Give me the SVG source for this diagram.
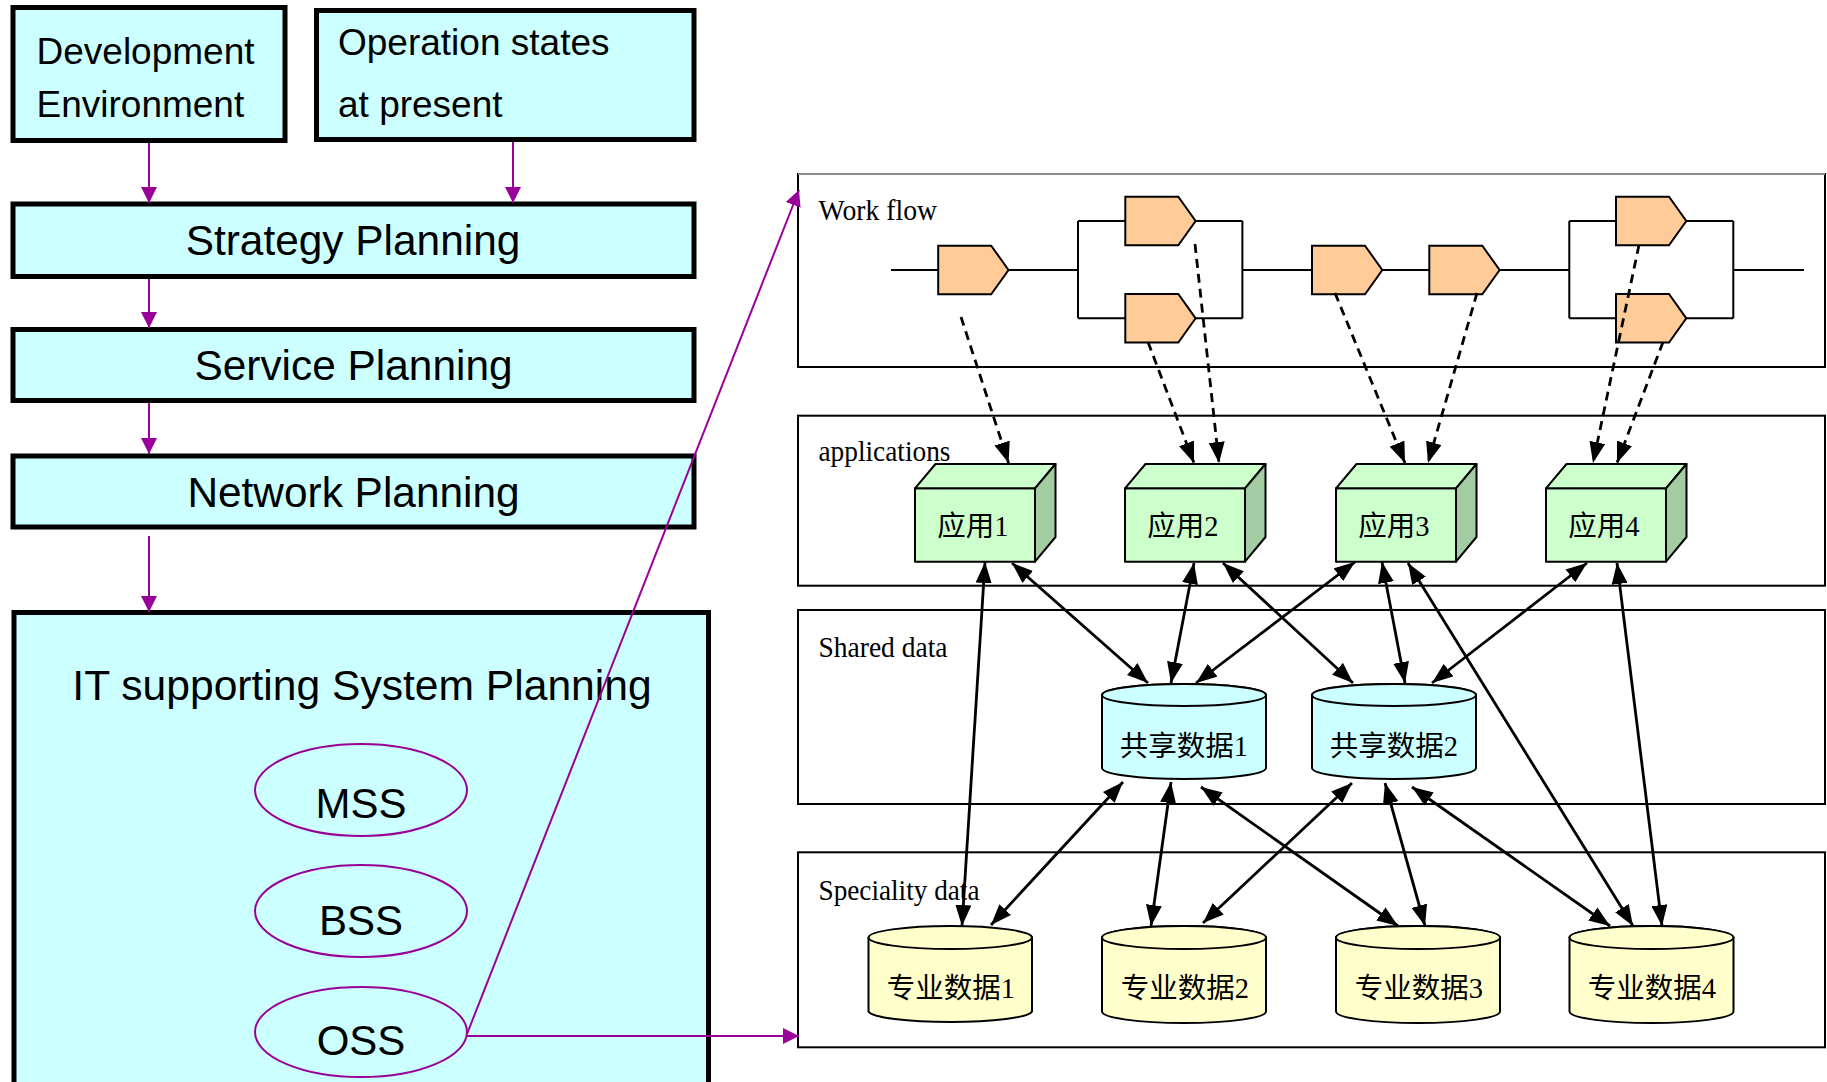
<svg xmlns="http://www.w3.org/2000/svg" width="1827" height="1082" viewBox="0 0 1827 1082">
<style>
.lbox{fill:#CCFFFF;stroke:#000;stroke-width:5}
.lt{font-family:"Liberation Sans",Arial,sans-serif;fill:#000}
.ell{fill:#CCFFFF;stroke:#990099;stroke-width:2}
.sec{fill:#fff;stroke:#000;stroke-width:2}
.st{font-family:"Liberation Serif","Times New Roman",serif;font-size:30px;fill:#000}
.pent{fill:#FFCC99;stroke:#000;stroke-width:2}
.wf{stroke:#000;stroke-width:2;fill:none}
.front{fill:#CCFFCC;stroke:#000;stroke-width:2;stroke-linejoin:round}
.side{fill:#A3CCA3;stroke:#000;stroke-width:2;stroke-linejoin:round}
.cs{fill:#CCFFFF;stroke:#000;stroke-width:2}
.cp{fill:#FFFFCC;stroke:#000;stroke-width:2}
.ct{font-family:"Liberation Serif","Noto Sans CJK SC",serif;font-size:28.5px;fill:#000;text-anchor:middle}
.pur{stroke:#990099;stroke-width:2;fill:none;marker-end:url(#pa)}
.dash{stroke:#000;stroke-width:2.8;stroke-dasharray:9 6;fill:none;marker-end:url(#ba)}
.sol{stroke:#000;stroke-width:2.8;fill:none;marker-start:url(#ba);marker-end:url(#ba)}
</style>
<defs>
<marker id="pa" markerUnits="userSpaceOnUse" markerWidth="16" markerHeight="16" refX="16" refY="8" orient="auto"><path d="M0,0 L16,8 L0,16 z" fill="#990099"/></marker>
<marker id="ba" markerUnits="userSpaceOnUse" markerWidth="21" markerHeight="16" refX="21" refY="8" orient="auto-start-reverse"><path d="M0,0 L21,8 L0,16 z" fill="#000"/></marker>
</defs>
<rect width="1827" height="1082" fill="#fff"/>

<!-- left column -->
<g id="dev-env"><rect class="lbox" x="13" y="7.5" width="272" height="133"/>
<text class="lt" x="36.5" y="64" font-size="37">Development</text>
<text class="lt" x="36.5" y="117" font-size="37">Environment</text></g>
<g id="op-states"><rect class="lbox" x="316.5" y="10.5" width="377.5" height="129"/>
<text class="lt" x="338" y="55" font-size="37">Operation states</text>
<text class="lt" x="338" y="117" font-size="37">at present</text></g>
<g id="strategy"><rect class="lbox" x="13" y="204" width="681" height="72.5"/>
<text class="lt" x="353" y="255" font-size="42.4" text-anchor="middle">Strategy Planning</text></g>
<g id="service"><rect class="lbox" x="13" y="329.5" width="681" height="71"/>
<text class="lt" x="353.5" y="380" font-size="42.4" text-anchor="middle">Service Planning</text></g>
<g id="network"><rect class="lbox" x="13" y="456" width="681" height="71"/>
<text class="lt" x="353.5" y="506.5" font-size="42.4" text-anchor="middle">Network Planning</text></g>
<g id="it-support"><rect class="lbox" x="14" y="612.5" width="694.5" height="480"/>
<text class="lt" x="362" y="700" font-size="42.6" text-anchor="middle">IT supporting System Planning</text></g>
<g id="mss"><ellipse class="ell" cx="361" cy="790" rx="106" ry="46"/><text class="lt" x="361" y="818" font-size="42" text-anchor="middle">MSS</text></g>
<g id="bss"><ellipse class="ell" cx="361" cy="911" rx="106" ry="46"/><text class="lt" x="361" y="935" font-size="42" text-anchor="middle">BSS</text></g>
<g id="oss"><ellipse class="ell" cx="361" cy="1032" rx="106" ry="45"/><text class="lt" x="361" y="1055" font-size="42" text-anchor="middle">OSS</text></g>

<!-- right sections -->
<g id="workflow-sec"><rect class="sec" x="798" y="174" width="1027" height="193" stroke="none"/>
<path d="M798,174 V367 H1825 V174" class="wf"/><path d="M798,174 H1825" stroke="#bbb" stroke-width="1.5"/>
<text class="st" x="818.5" y="220" textLength="118.5" lengthAdjust="spacingAndGlyphs">Work flow</text></g>
<g id="apps-sec"><rect class="sec" x="798" y="415.7" width="1027" height="170"/>
<text class="st" x="818.5" y="461" textLength="132" lengthAdjust="spacingAndGlyphs">applications</text></g>
<g id="shared-sec"><rect class="sec" x="798" y="610" width="1027" height="194"/>
<text class="st" x="818.5" y="656.5" textLength="129" lengthAdjust="spacingAndGlyphs">Shared data</text></g>
<g id="spec-sec"><rect class="sec" x="798" y="852.3" width="1027" height="195"/>
<text class="st" x="818.5" y="900" textLength="161" lengthAdjust="spacingAndGlyphs">Speciality data</text></g>

<!-- workflow lines -->
<g id="workflow-lines" class="wf">
<path d="M891,270 H938 M1008.6,270 H1078 M1078,221 V318.3 M1078,221 H1125 M1078,318.3 H1125 M1195,221 H1242.4 M1195,318.3 H1242.4 M1242.4,221 V318.3 M1242.4,270 H1312"/>
<path d="M1382,270 H1429 M1499,270 H1569.3 M1569.3,221 V318.3 M1569.3,221 H1616 M1569.3,318.3 H1616 M1686,221 H1733.3 M1686,318.3 H1733.3 M1733.3,221 V318.3 M1733.3,270 H1804"/>
</g>
<g id="task1"><path class="pent" d="M938.2,245.7 h53 l17.3,24.3 l-17.3,24.3 h-53 z"/></g>
<g id="task2a"><path class="pent" d="M1125.3,196.7 h53 l17.3,24.3 l-17.3,24.3 h-53 z"/></g>
<g id="task2b"><path class="pent" d="M1125.3,294 h53 l17.3,24.3 l-17.3,24.3 h-53 z"/></g>
<g id="task3"><path class="pent" d="M1312,245.7 h53 l17.3,24.3 l-17.3,24.3 h-53 z"/></g>
<g id="task4"><path class="pent" d="M1429.3,245.7 h53 l17.3,24.3 l-17.3,24.3 h-53 z"/></g>
<g id="task5a"><path class="pent" d="M1616,196.7 h53 l17.3,24.3 l-17.3,24.3 h-53 z"/></g>
<g id="task5b"><path class="pent" d="M1616,294 h53 l17.3,24.3 l-17.3,24.3 h-53 z"/></g>

<!-- applications -->
<g id="app1"><rect class="front" x="915" y="488.3" width="120" height="73.4"/><path class="front" d="M915,488.3 L935.5,464 H1055.5 L1035,488.3 z"/><path class="side" d="M1035,488.3 L1055.5,464 V537 L1035,561.7 z"/><text class="ct" x="973" y="536" font-size="31">应用1</text></g>
<g id="app2"><rect class="front" x="1125" y="488.3" width="120" height="73.4"/><path class="front" d="M1125,488.3 L1145.5,464 H1265.5 L1245,488.3 z"/><path class="side" d="M1245,488.3 L1265.5,464 V537 L1245,561.7 z"/><text class="ct" x="1183" y="536" font-size="31">应用2</text></g>
<g id="app3"><rect class="front" x="1336" y="488.3" width="120" height="73.4"/><path class="front" d="M1336,488.3 L1356.5,464 H1476.5 L1456,488.3 z"/><path class="side" d="M1456,488.3 L1476.5,464 V537 L1456,561.7 z"/><text class="ct" x="1394" y="536" font-size="31">应用3</text></g>
<g id="app4"><rect class="front" x="1546" y="488.3" width="120" height="73.4"/><path class="front" d="M1546,488.3 L1566.5,464 H1686.5 L1666,488.3 z"/><path class="side" d="M1666,488.3 L1686.5,464 V537 L1666,561.7 z"/><text class="ct" x="1604" y="536" font-size="31">应用4</text></g>

<!-- shared data -->
<g id="shared1"><path class="cs" d="M1102,695 V768 A82,11 0 0 0 1266,768 V695 A82,11 0 0 0 1102,695 z"/><ellipse class="cs" cx="1184" cy="695" rx="82" ry="11"/><text class="ct" x="1184" y="756">共享数据1</text></g>
<g id="shared2"><path class="cs" d="M1312,695 V768 A82,11 0 0 0 1476,768 V695 A82,11 0 0 0 1312,695 z"/><ellipse class="cs" cx="1394" cy="695" rx="82" ry="11"/><text class="ct" x="1394" y="756">共享数据2</text></g>

<!-- speciality data -->
<g id="spec1"><path class="cp" d="M868.5,937.5 V1011.5 A82,11.5 0 0 0 1032,1011.5 V937.5 A82,11.5 0 0 0 868.5,937.5 z"/><ellipse class="cp" cx="950.3" cy="937.5" rx="81.7" ry="11.5"/><text class="ct" x="951" y="998">专业数据1</text></g>
<g id="spec2"><path class="cp" d="M1102,937.5 V1011.5 A82,11.5 0 0 0 1266,1011.5 V937.5 A82,11.5 0 0 0 1102,937.5 z"/><ellipse class="cp" cx="1184" cy="937.5" rx="82" ry="11.5"/><text class="ct" x="1185" y="998">专业数据2</text></g>
<g id="spec3"><path class="cp" d="M1336,937.5 V1011.5 A82,11.5 0 0 0 1500,1011.5 V937.5 A82,11.5 0 0 0 1336,937.5 z"/><ellipse class="cp" cx="1418" cy="937.5" rx="82" ry="11.5"/><text class="ct" x="1419" y="998">专业数据3</text></g>
<g id="spec4"><path class="cp" d="M1569.5,937.5 V1011.5 A82,11.5 0 0 0 1733.5,1011.5 V937.5 A82,11.5 0 0 0 1569.5,937.5 z"/><ellipse class="cp" cx="1651.5" cy="937.5" rx="82" ry="11.5"/><text class="ct" x="1652" y="998">专业数据4</text></g>

<!-- connectors -->
<g id="connectors">
<line class="pur" x1="149" y1="143" x2="149" y2="203"/>
<line class="pur" x1="513" y1="142" x2="513" y2="203"/>
<line class="pur" x1="149" y1="279" x2="149" y2="328"/>
<line class="pur" x1="149" y1="403" x2="149" y2="454"/>
<line class="pur" x1="149" y1="536" x2="149" y2="612"/>
<line class="pur" x1="467" y1="1036" x2="799" y2="1036"/>
<line class="pur" x1="467" y1="1034" x2="799" y2="190"/>

<line class="dash" x1="961" y1="317" x2="1008.6" y2="463"/>
<line class="dash" x1="1148" y1="342" x2="1194" y2="463"/>
<line class="dash" x1="1195" y1="244" x2="1219" y2="463"/>
<line class="dash" x1="1335" y1="293" x2="1405" y2="463"/>
<line class="dash" x1="1477" y1="293" x2="1428" y2="463"/>
<line class="dash" x1="1639" y1="245" x2="1593" y2="463"/>
<line class="dash" x1="1663" y1="342" x2="1617" y2="463"/>

<line class="sol" x1="985" y1="562" x2="962" y2="926"/>
<line class="sol" x1="1012" y1="563" x2="1148" y2="683"/>
<line class="sol" x1="1194" y1="563" x2="1171" y2="683"/>
<line class="sol" x1="1223" y1="563" x2="1353" y2="683"/>
<line class="sol" x1="1355" y1="562" x2="1196" y2="683"/>
<line class="sol" x1="1382" y1="562" x2="1405" y2="683"/>
<line class="sol" x1="1408" y1="563" x2="1633" y2="926"/>
<line class="sol" x1="1587" y1="563" x2="1432" y2="683"/>
<line class="sol" x1="1617" y1="563" x2="1662" y2="926"/>
<line class="sol" x1="1123" y1="782" x2="991" y2="925"/>
<line class="sol" x1="1171" y1="782" x2="1151" y2="926"/>
<line class="sol" x1="1201" y1="787" x2="1398" y2="926"/>
<line class="sol" x1="1352" y1="783" x2="1203" y2="923"/>
<line class="sol" x1="1385" y1="783" x2="1425" y2="926"/>
<line class="sol" x1="1412" y1="787" x2="1610" y2="926"/>
</g>
</svg>
